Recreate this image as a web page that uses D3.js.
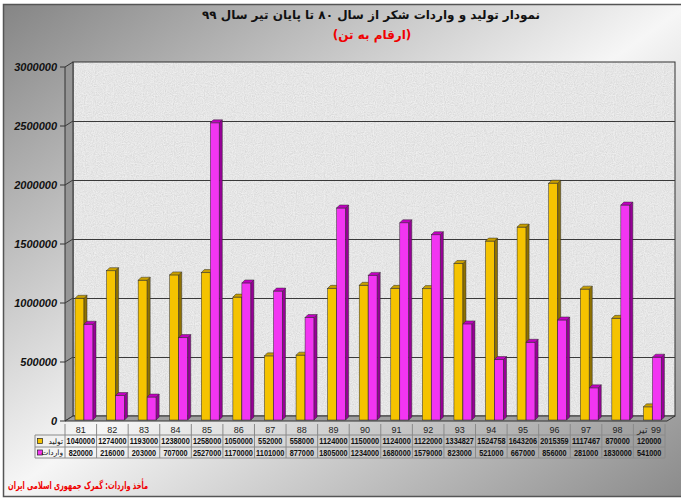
<!DOCTYPE html>
<html>
<head>
<meta charset="utf-8">
<script src="https://cdn.jsdelivr.net/npm/d3@7"></script>
<style>
  body { margin: 0; background: #fff; }
  svg { display: block; }
</style>
</head>
<body>
<svg id="chart"></svg>
<script>
// years (Persian calendar), last one is up to end of Tir 99
const years = ['81', '82', '83', '84', '85', '86', '87', '88', '89', '90',
    '91', '92', '93', '94', '95', '96', '97', '98', '99 تیر']
const production = [1040000, 1274000, 1193000, 1238000, 1258000, 1050000, 552000, 558000, 1124000, 1150000,
    1124000, 1122000, 1334827, 1524758, 1643206, 2015359, 1117467, 870000, 120000]
const imports = [820000, 216000, 203000, 707000, 2527000, 1170000, 1101000, 877000, 1805000, 1234000,
    1680000, 1579000, 823000, 521000, 667000, 856000, 281000, 1830000, 541000]
const seriesNames = ['تولید', 'واردات']
const yTicks = [0, 500000, 1000000, 1500000, 2000000, 2500000, 3000000]

const W = 681, H = 498
const DX = 8, DY = -5        // depth of the back wall
const BD = 3                 // depth of a bar

let svg = d3.select('#chart').attr('width', W).attr('height', H)
let defs = svg.append('defs')

let bg = defs.append('linearGradient').attr('id', 'bg')
    .attr('x1', 0).attr('y1', 0).attr('x2', 1).attr('y2', 1)
bg.append('stop').attr('offset', 0).attr('stop-color', '#858585')
bg.append('stop').attr('offset', 0.5).attr('stop-color', '#f6f6f6')
bg.append('stop').attr('offset', 1).attr('stop-color', '#8a8a8a')

// speckled wall texture
let f = defs.append('filter').attr('id', 'speckle').attr('x', 0).attr('y', 0).attr('width', 1).attr('height', 1)
f.append('feTurbulence').attr('type', 'fractalNoise').attr('baseFrequency', 0.9).attr('numOctaves', 2).attr('seed', 3).attr('result', 'n')
f.append('feColorMatrix').attr('in', 'n').attr('type', 'matrix')
    .attr('values', '0 0 0 0 0.55  0 0 0 0 0.55  0 0 0 0 0.55  0.6 0.6 0 0 -0.35')
    .attr('result', 'dots')
f.append('feComposite').attr('in', 'dots').attr('in2', 'SourceGraphic').attr('operator', 'atop')

// frame
svg.append('rect').attr('x', 3.5).attr('y', 4.5).attr('width', W + 4).attr('height', 492)
    .attr('fill', 'url(#bg)').attr('stroke', '#555').attr('stroke-width', 1.5)

let x = d3.scaleBand().domain(years).range([65, 665])
let y = d3.scaleLinear().domain([0, 3000000]).range([421, 67])

let x0 = 65, x1 = 667, yTop = y(3000000), yBot = y(0)

// back wall
svg.append('rect').attr('x', x0 + DX).attr('y', yTop + DY)
    .attr('width', x1 - x0).attr('height', yBot - yTop)
    .attr('fill', '#efefef').attr('filter', 'url(#speckle)')
svg.append('rect').attr('x', x0 + DX).attr('y', yTop + DY)
    .attr('width', x1 - x0).attr('height', yBot - yTop)
    .attr('fill', 'none').attr('stroke', '#333').attr('stroke-width', 1)

// side wall
svg.append('polygon')
    .attr('points', [[x0, yTop], [x0 + DX, yTop + DY], [x0 + DX, yBot + DY], [x0, yBot]].join(' '))
    .attr('fill', '#969696').attr('stroke', '#333').attr('stroke-width', 1)

// grid lines
let grid = svg.append('g').attr('stroke', '#3a3a3a').attr('stroke-width', 1)
yTicks.filter(t => t > 0 && t < 3000000).forEach(t => {
    grid.append('line').attr('x1', x0 + DX).attr('x2', x1 + DX)
        .attr('y1', y(t) + DY + 0.5).attr('y2', y(t) + DY + 0.5)
    grid.append('line').attr('x1', x0).attr('x2', x0 + DX)
        .attr('y1', y(t)).attr('y2', y(t) + DY)
})

// floor
svg.append('polygon')
    .attr('points', [[x0, yBot], [x0 + DX, yBot + DY], [x1 + DX, yBot + DY], [x1, yBot]].join(' '))
    .attr('fill', '#9e9e9e').attr('stroke', '#333').attr('stroke-width', 1)

// y axis
let yAxis = svg.append('g')
yAxis.selectAll('line').data(yTicks).enter().append('line')
    .attr('x1', 60).attr('x2', x0).attr('y1', d => y(d)).attr('y2', d => y(d))
    .attr('stroke', '#333')
yAxis.selectAll('text').data(yTicks).enter().append('text')
    .attr('x', 57).attr('y', d => y(d)).attr('dy', '0.36em')
    .attr('text-anchor', 'end')
    .attr('font-family', 'Liberation Sans, Arial, sans-serif')
    .attr('font-size', 11).attr('font-weight', 'bold').attr('font-style', 'italic')
    .attr('fill', '#111')
    .text(d => d)

// bars
let colors = [
    { front: '#f5c300', side: '#8f7100', top: '#c9a000' },
    { front: '#f235f2', side: '#980098', top: '#c200c2' }
]
let barW = 9

function drawBars(values, offset, c) {
    let g = svg.append('g').attr('stroke', '#2a2a2a').attr('stroke-width', 0.5)
    values.forEach((v, i) => {
        let bx = x(years[i]) + offset
        let top = y(v), bot = y(0) - 1
        g.append('rect').attr('x', bx).attr('y', top).attr('width', barW).attr('height', bot - top)
            .attr('fill', c.front)
        g.append('polygon')
            .attr('points', [[bx + barW, top], [bx + barW + BD, top - BD], [bx + barW + BD, bot - BD], [bx + barW, bot]].join(' '))
            .attr('fill', c.side)
        g.append('polygon')
            .attr('points', [[bx, top], [bx + BD, top - BD], [bx + barW + BD, top - BD], [bx + barW, top]].join(' '))
            .attr('fill', c.top)
    })
}
drawBars(production, 10, colors[0])
drawBars(imports, 19, colors[1])

// data table
let rowTop = [424, 435, 447, 458]
let table = svg.append('g').attr('stroke', '#8a8a8a').attr('stroke-width', 1).attr('fill', 'none')
let bw = x.bandwidth()
years.forEach((yr, i) => {
    table.append('line').attr('x1', x(yr)).attr('x2', x(yr)).attr('y1', rowTop[0]).attr('y2', rowTop[3])
})
table.append('line').attr('x1', 665).attr('x2', 665).attr('y1', rowTop[0]).attr('y2', rowTop[3])
table.append('line').attr('x1', 35).attr('x2', 35).attr('y1', rowTop[1]).attr('y2', rowTop[3])
table.append('line').attr('x1', 35).attr('x2', 665).attr('y1', rowTop[1]).attr('y2', rowTop[1])
table.append('line').attr('x1', 35).attr('x2', 665).attr('y1', rowTop[2]).attr('y2', rowTop[2])
table.append('line').attr('x1', 35).attr('x2', 665).attr('y1', rowTop[3]).attr('y2', rowTop[3])

let txt = svg.append('g').attr('font-family', 'Liberation Sans, Arial, sans-serif')
txt.selectAll('text.cat').data(years).enter().append('text')
    .attr('class', 'cat')
    .attr('x', d => x(d) + bw / 2).attr('y', (rowTop[0] + rowTop[1]) / 2).attr('dy', '0.36em')
    .attr('text-anchor', 'middle').attr('font-size', 9).attr('fill', '#222')
    .attr('direction', d => d.indexOf(' ') > 0 ? 'rtl' : 'ltr')
    .text(d => d)

;[production, imports].forEach((vals, r) => {
    let cy = (rowTop[r + 1] + rowTop[r + 2]) / 2
    txt.selectAll('text.v' + r).data(vals).enter().append('text')
        .attr('x', (d, i) => x(years[i]) + bw / 2).attr('y', cy).attr('dy', '0.36em')
        .attr('text-anchor', 'middle').attr('font-size', 9).attr('font-weight', 'bold')
        .attr('fill', '#111')
        .attr('textLength', d => String(d).length * 4.05).attr('lengthAdjust', 'spacingAndGlyphs')
        .text(d => d)
    svg.append('rect').attr('x', 37.5).attr('y', cy - 2.5).attr('width', 5).attr('height', 5)
        .attr('fill', colors[r].front).attr('stroke', '#222').attr('stroke-width', 0.7)
    svg.append('text').attr('x', 63).attr('y', cy).attr('dy', '0.36em')
        .attr('text-anchor', 'end').attr('font-family', 'DejaVu Sans, sans-serif')
        .attr('font-size', 7.5).attr('fill', '#111')
        .text(seriesNames[r])
})

// titles
svg.append('text').attr('x', 371).attr('y', 19)
    .attr('text-anchor', 'middle').attr('font-family', 'DejaVu Sans, sans-serif')
    .attr('font-size', 12).attr('font-weight', 'bold').attr('fill', '#111')
    .text('نمودار تولید و واردات شکر از سال ۸۰ تا پایان تیر سال ۹۹')
svg.append('text').attr('x', 372).attr('y', 39)
    .attr('text-anchor', 'middle').attr('font-family', 'DejaVu Sans, sans-serif')
    .attr('font-size', 12).attr('font-weight', 'bold').attr('fill', '#f00000')
    .text('(ارقام به تن)')
svg.append('text').attr('x', 8).attr('y', 489)
    .attr('text-anchor', 'start').attr('font-family', 'DejaVu Sans, sans-serif')
    .attr('font-size', 10.5).attr('font-weight', 'bold').attr('fill', '#f00000')
    .attr('textLength', 140).attr('lengthAdjust', 'spacingAndGlyphs')
    .text('مأخذ واردات: گمرک جمهوری اسلامی ایران')
</script>
</body>
</html>
